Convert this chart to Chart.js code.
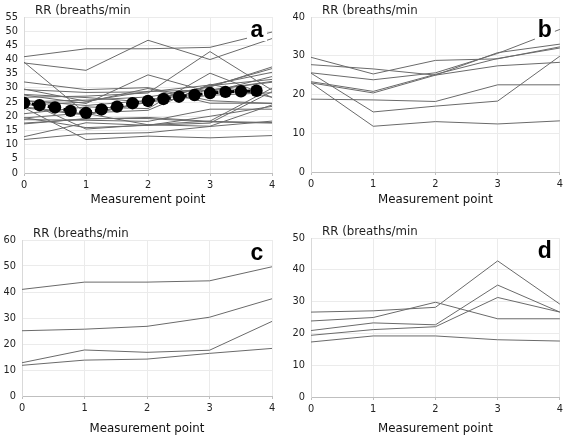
<!DOCTYPE html>
<html><head><meta charset="utf-8">
<script src="https://cdn.jsdelivr.net/npm/chart.js@4/dist/chart.umd.min.js"></script>
<style>
html,body{margin:0;padding:0;background:#fff;width:567px;height:439px;overflow:hidden}
canvas{position:absolute}
</style></head><body>
<canvas id="ca" width="283" height="219" style="left:0;top:0"></canvas>
<canvas id="cb" width="284" height="219" style="left:283px;top:0"></canvas>
<canvas id="cc" width="283" height="220" style="left:0;top:219px"></canvas>
<canvas id="cd" width="284" height="220" style="left:283px;top:219px"></canvas>
<script>
// ---- data ----
const measurementPoints = [0, 1, 2, 3, 4];
const yAxisTitle = 'RR (breaths/min';
const xAxisTitle = 'Measurement point';

const yTicksA = [0, 5, 10, 15, 20, 25, 30, 35, 40, 45, 50, 55];
const yTicksB = [0, 10, 20, 30, 40];
const yTicksC = [0, 10, 20, 30, 40, 50, 60];
const yTicksD = [0, 10, 20, 30, 40, 50];

const panelBSeries = [
  [29.6, 25.3, 28.8, 29.2, 32.3],
  [27.7, 26.6, 25.0, 27.4, 28.3],
  [25.6, 23.8, 25.6, 30.6, 36.8],
  [23.3, 20.8, 25.2, 29.3, 32.0],
  [23.0, 20.4, 25.0, 30.8, 33.0],
  [25.5, 15.5, 17.0, 18.3, 29.9],
  [23.0, 11.8, 13.0, 12.4, 13.2],
  [18.8, 18.6, 18.2, 22.5, 22.5]
];
const panelCSeries = [
  [41.0, 43.8, 43.8, 44.3, 49.7],
  [25.1, 25.7, 26.8, 30.3, 37.4],
  [12.8, 17.7, 16.8, 17.6, 28.7],
  [11.8, 13.8, 14.2, 16.4, 18.3]
];
const panelDSeries = [
  [26.7, 27.1, 28.2, 42.8, 29.2],
  [23.9, 25.0, 29.8, 24.6, 24.6],
  [20.9, 23.3, 22.7, 35.2, 26.7],
  [19.4, 21.2, 22.1, 31.3, 26.7],
  [17.3, 19.2, 19.2, 18.0, 17.6]
];
const panelAExtraSeries = [
  [38.8, 36.2, 46.8, 40.0, 47.4],
  [39.1, 21.0, 17.0, 16.5, 24.0],
  [32.1, 29.4, 30.1, 25.5, 24.5],
  [27.5, 24.5, 34.6, 28.5, 34.0],
  [29.4, 28.4, 28.6, 31.0, 35.5],
  [19.5, 16.0, 16.8, 20.0, 23.5],
  [17.6, 19.0, 19.6, 18.2, 17.8]
];
const panelASeries = [...panelCSeries, ...panelDSeries, ...panelBSeries, ...panelAExtraSeries];

const trendX = [0, 0.25, 0.5, 0.75, 1, 1.25, 1.5, 1.75, 2, 2.25, 2.5, 2.75, 3, 3.25, 3.5, 3.75];
const trendY = [24.7, 23.9, 23.1, 21.9, 21.2, 22.4, 23.4, 24.6, 25.4, 26.1, 26.9, 27.5, 28.2, 28.6, 28.8, 29.0];

// ---- drawing ----
const LINE_COLOR = '#6a6a6a';
const FONT = '"DejaVu Sans", Verdana, sans-serif';

const panelText = {
  id: 'panelText',
  afterDatasetsDraw(chart, args, opts) {
    const {ctx, chartArea} = chart;
    ctx.save();
    const cx = chartArea.right - 15;
    ctx.fillStyle = '#ffffff';
    ctx.fillRect(cx - 10, chartArea.top + 3, 20, 21);
    ctx.fillStyle = '#000000';
    ctx.font = 'bold 23px "Liberation Sans", Arial, sans-serif';
    ctx.textAlign = 'center';
    ctx.textBaseline = 'alphabetic';
    ctx.fillText(opts.letter, cx, chartArea.top + 20);
    ctx.fillStyle = '#1f1f1f';
    ctx.font = '11.8px ' + FONT;
    ctx.textAlign = 'left';
    ctx.textBaseline = 'middle';
    ctx.fillText(yAxisTitle, chartArea.left + 11, chartArea.top - 6);
    ctx.restore();
  }
};

function makeChart(id, series, yTicks, area, letter, titlePad, withTrend) {
  const canvas = document.getElementById(id);
  const W = canvas.width, H = canvas.height;
  const datasets = [];
  if (withTrend) {
    datasets.push({
      data: trendX.map((x, i) => ({x: x, y: trendY[i]})),
      borderColor: '#000', borderWidth: 3, borderDash: [5, 3],
      pointRadius: 6.2, pointBackgroundColor: '#000', pointBorderWidth: 0,
      order: 0
    });
  }
  series.forEach(s => datasets.push({
    data: measurementPoints.map((x, i) => ({x: x, y: s[i]})),
    borderColor: LINE_COLOR, borderWidth: 1, pointRadius: 0, order: 1
  }));
  return new Chart(canvas, {
    type: 'line',
    data: {datasets},
    options: {
      responsive: false, animation: false, devicePixelRatio: 1,
      layout: {padding: {left: 0, top: area.top, right: W - area.right, bottom: 0}},
      plugins: {legend: {display: false}, tooltip: {enabled: false}, panelText: {letter}},
      elements: {line: {tension: 0}},
      scales: {
        x: {
          type: 'linear', min: 0, max: 4,
          afterBuildTicks: s => { s.ticks = measurementPoints.map(v => ({value: v})); },
          afterFit: s => { s.height = H - area.bottom; },
          grid: {color: '#ebebeb', drawTicks: true, tickLength: 3, tickColor: '#bfbfbf'},
          border: {display: true, color: '#bfbfbf', width: 1},
          ticks: {padding: 4, color: '#222', autoSkip: false, font: {family: FONT, size: 9.8}, maxRotation: 0},
          title: {display: true, text: xAxisTitle, color: '#111',
                  font: {family: FONT, size: 11.8}, padding: {top: 0, bottom: titlePad}}
        },
        y: {
          type: 'linear', min: yTicks[0], max: yTicks[yTicks.length - 1],
          afterBuildTicks: s => { s.ticks = yTicks.map(v => ({value: v})); },
          afterFit: s => { s.width = area.left; },
          grid: {color: '#ebebeb', drawTicks: false},
          border: {display: true, color: '#d9d9d9', width: 1},
          ticks: {padding: 6, color: '#222', autoSkip: false, font: {family: FONT, size: 9.8}}
        }
      }
    },
    plugins: [panelText]
  });
}

makeChart('ca', panelASeries, yTicksA, {left: 24, top: 17, right: 272, bottom: 173}, 'a', 12, true);
makeChart('cb', panelBSeries, yTicksB, {left: 28, top: 17, right: 279, bottom: 172}, 'b', 12, false);
makeChart('cc', panelCSeries, yTicksC, {left: 22, top: 21, right: 272, bottom: 177}, 'c', 3, false);
makeChart('cd', panelDSeries, yTicksD, {left: 28, top: 19, right: 279, bottom: 178}, 'd', 3, false);
</script>
</body></html>
